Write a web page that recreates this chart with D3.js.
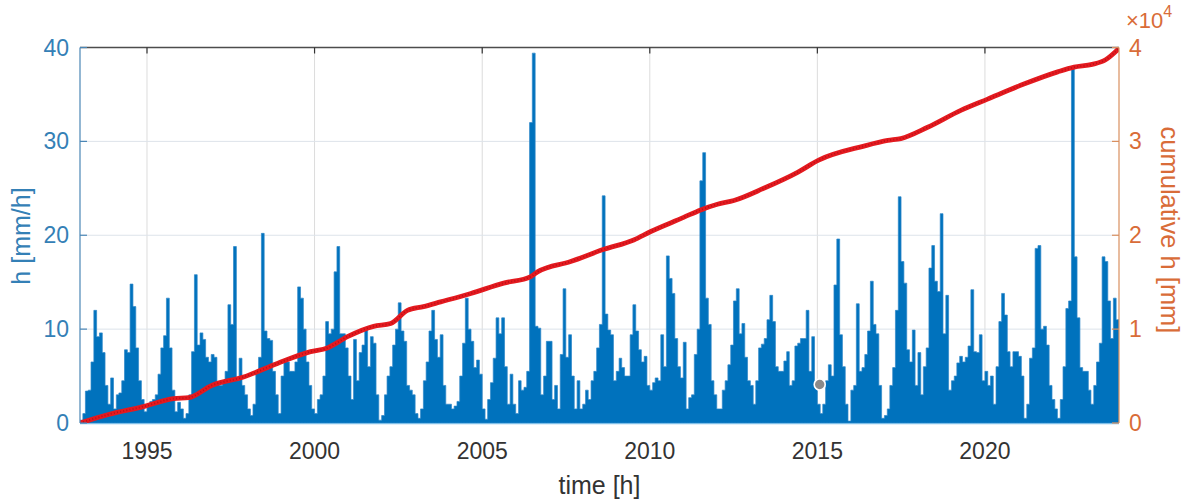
<!DOCTYPE html>
<html>
<head>
<meta charset="utf-8">
<script src="https://cdn.jsdelivr.net/npm/d3@7"></script>
<style>
  html, body { margin: 0; padding: 0; background: #fff; }
  svg { display: block; font-family: "Liberation Sans", Arial, Helvetica, sans-serif; }
</style>
</head>
<body>
<svg id="chart" width="1189" height="502"></svg>
<script>
// Rainfall record: monthly peak hourly intensity and running total.
const startYear = 1993;
const endYear = 2024;

// Peak hourly rainfall per month [mm/h], one row per year (Jan..Dec)
const hourlyPeak = [
  /* 1993 */ 0.3, 1.0, 3.4, 3.5, 6.5, 12.0, 9.2, 9.6, 7.5, 4.0, 2.0, 4.8,
  /* 1994 */ 1.5, 3.0, 3.2, 4.5, 7.8, 7.5, 14.8, 12.4, 8.0, 4.5, 2.5, 1.2,
  /* 1995 */ 2.0, 2.3, 2.5, 3.0, 5.2, 8.0, 9.3, 13.3, 8.0, 3.5, 1.2, 2.2,
  /* 1996 */ 1.5, 0.5, 1.0, 3.0, 7.6, 15.8, 8.3, 9.6, 8.9, 7.0, 6.5, 7.3,
  /* 1997 */ 7.0, 4.1, 4.0, 4.5, 5.5, 12.6, 10.5, 18.8, 4.5, 6.9, 4.0, 3.0,
  /* 1998 */ 1.5, 0.8, 2.0, 5.5, 7.0, 20.2, 9.8, 9.0, 8.8, 5.5, 3.0, 1.0,
  /* 1999 */ 5.0, 6.5, 6.5, 5.5, 5.5, 6.5, 14.5, 13.3, 10.0, 6.5, 4.0, 1.5,
  /* 2000 */ 1.0, 2.5, 3.0, 5.0, 10.8, 9.5, 10.0, 16.1, 18.8, 9.5, 9.5, 8.0,
  /* 2001 */ 5.0, 2.5, 8.9, 4.5, 7.5, 8.3, 10.1, 6.0, 9.2, 8.5, 3.0, 0.3,
  /* 2002 */ 0.8, 3.0, 5.0, 6.0, 8.3, 10.0, 12.8, 9.8, 8.7, 4.0, 3.5, 3.0,
  /* 2003 */ 1.0, 0.5, 1.5, 4.5, 6.5, 9.8, 12.0, 8.9, 7.0, 9.4, 4.0, 2.0,
  /* 2004 */ 2.0, 1.5, 1.8, 2.3, 5.0, 8.5, 13.3, 10.0, 8.7, 5.9, 6.7, 5.2,
  /* 2005 */ 1.5, 0.4, 2.5, 4.3, 6.9, 11.2, 9.5, 11.2, 6.0, 2.0, 5.2, 2.0,
  /* 2006 */ 1.0, 4.5, 3.5, 3.8, 5.5, 32.0, 39.4, 10.3, 10.1, 3.0, 5.0, 8.7,
  /* 2007 */ 8.7, 2.5, 4.0, 1.5, 7.3, 14.3, 7.0, 9.4, 5.0, 1.5, 4.5, 1.5,
  /* 2008 */ 2.0, 3.5, 2.5, 4.5, 5.5, 8.0, 10.5, 24.2, 11.6, 9.9, 9.4, 4.5,
  /* 2009 */ 5.5, 6.9, 5.9, 5.0, 5.0, 9.4, 12.6, 9.8, 7.8, 6.5, 7.1, 4.0,
  /* 2010 */ 3.5, 4.3, 4.8, 4.5, 9.4, 6.0, 17.8, 15.4, 13.8, 9.0, 6.0, 4.8,
  /* 2011 */ 8.6, 1.5, 2.7, 3.0, 7.3, 10.0, 25.8, 28.8, 13.3, 10.5, 4.5, 3.0,
  /* 2012 */ 1.5, 1.5, 3.5, 4.5, 6.2, 8.3, 13.0, 14.3, 9.5, 10.6, 7.0, 4.5,
  /* 2013 */ 4.0, 2.0, 4.5, 8.0, 8.4, 9.0, 11.0, 13.6, 10.8, 6.0, 5.5, 5.5,
  /* 2014 */ 6.6, 7.6, 4.0, 4.5, 8.2, 8.5, 9.0, 9.0, 12.0, 5.5, 9.2, 4.0,
  /* 2015 */ 2.0, 1.0, 2.0, 4.5, 6.2, 5.0, 14.7, 19.6, 9.4, 6.0, 2.0, 0.2,
  /* 2016 */ 3.5, 4.0, 12.7, 5.5, 5.9, 7.3, 9.8, 15.1, 10.5, 9.5, 4.0, 0.5,
  /* 2017 */ 0.8, 1.5, 4.0, 5.9, 12.0, 24.1, 17.2, 14.9, 7.8, 6.5, 9.9, 4.0,
  /* 2018 */ 7.5, 3.0, 6.0, 8.0, 16.5, 18.9, 15.1, 14.0, 22.3, 9.5, 13.6, 3.5,
  /* 2019 */ 4.5, 5.0, 6.4, 7.1, 6.5, 7.0, 8.2, 14.2, 7.6, 7.5, 9.4, 4.5,
  /* 2020 */ 5.5, 4.0, 5.0, 2.0, 6.0, 10.8, 13.8, 11.5, 7.6, 6.0, 7.6, 7.6,
  /* 2021 */ 7.1, 5.0, 0.5, 2.0, 6.9, 8.0, 18.6, 18.9, 10.0, 10.3, 8.3, 4.0,
  /* 2022 */ 2.5, 1.5, 0.5, 2.5, 6.0, 12.2, 13.0, 37.8, 17.7, 11.2, 5.9, 5.5,
  /* 2023 */ 5.5, 3.5, 2.0, 4.0, 6.5, 8.5, 17.7, 17.2, 13.0, 9.0, 13.3, 11.0
];

// Running total of rainfall: decimal year and cumulative depth [mm]
const cumulativeYear = [
  1993.00, 1993.85, 1994.95, 1995.79, 1996.24, 1996.93, 1997.88, 1998.89,
  1999.88, 2000.38, 2000.98, 2001.76, 2002.27, 2002.77, 2003.25, 2003.76,
  2004.66, 2005.64, 2006.45, 2006.65, 2007.64, 2008.63, 2009.52, 2010.03,
  2011.01, 2011.52, 2012.02, 2012.51, 2013.40, 2014.41, 2015.04, 2016.39,
  2017.10, 2017.49, 2018.29, 2019.28, 2020.08, 2021.16, 2022.17, 2022.66,
  2023.20, 2023.60, 2024.00
];
const cumulativeMm = [
  0, 900, 1800, 2600, 2700, 4000, 4900, 6350,
  7600, 8000, 9200, 10300, 10600, 12000, 12400, 12900,
  13800, 14900, 15600, 16100, 17200, 18500, 19500, 20400,
  21900, 22700, 23300, 23700, 25000, 26700, 28000, 29500,
  30100, 30300, 31500, 33300, 34500, 36100, 37400, 37900,
  38200, 38700, 39900
];

// Axis ticks
const leftTicks = [0, 10, 20, 30, 40];
const rightTicks = [0, 10000, 20000, 30000, 40000];
const yearTicks = [1995, 2000, 2005, 2010, 2015, 2020];

// Highlighted sample (data tip marker)
const tipYear = 2015.07;
const tipValue = 4.1;

// ---------------------------------------------------------------------------
const colLeft = "#0072bd";
const colLeftText = "#3480b6";
const colRightText = "#d96c38";

const plot = { left: 80, right: 1119, top: 47.5, bottom: 423 };

function yearToDate(y) {
  const yr = Math.floor(y);
  const a = new Date(yr, 0, 1).getTime();
  const b = new Date(yr + 1, 0, 1).getTime();
  return new Date(a + (y - yr) * (b - a));
}

const x = d3.scaleTime()
  .domain([new Date(startYear, 0, 1), new Date(endYear, 0, 1)])
  .range([plot.left, plot.right]);
const yL = d3.scaleLinear().domain([0, 40]).range([plot.bottom, plot.top]);
const yR = d3.scaleLinear().domain([0, 40000]).range([plot.bottom, plot.top]);

const svg = d3.select("#chart");

svg.append("defs").append("clipPath").attr("id", "plotClip")
  .append("rect")
  .attr("x", plot.left).attr("y", plot.top - 3)
  .attr("width", plot.right - plot.left).attr("height", plot.bottom - plot.top + 3);

// Grid
const grid = svg.append("g");
grid.selectAll("line.gx").data(yearTicks).join("line")
  .attr("x1", d => x(new Date(d, 0, 1))).attr("x2", d => x(new Date(d, 0, 1)))
  .attr("y1", plot.top).attr("y2", plot.bottom)
  .attr("stroke", "#dcdcdc").attr("stroke-width", 1);
grid.selectAll("line.gy").data(leftTicks.filter(d => d > 0 && d < 40)).join("line")
  .attr("x1", plot.left).attr("x2", plot.right)
  .attr("y1", d => yL(d)).attr("y2", d => yL(d))
  .attr("stroke", "#dde3ea").attr("stroke-width", 1);

// Bottom axis line (drawn beneath the data)
svg.append("line")
  .attr("x1", plot.left).attr("x2", plot.right)
  .attr("y1", plot.bottom + 0.5).attr("y2", plot.bottom + 0.5)
  .attr("stroke", "#7fbfe8").attr("stroke-width", 1.5);

// Monthly peak intensity as stepped bars
const monthly = hourlyPeak.map((v, i) => ({
  date: new Date(startYear + Math.floor(i / 12), i % 12, 1),
  v
}));
monthly.push({ date: new Date(endYear, 0, 1), v: hourlyPeak[hourlyPeak.length - 1] });

const area = d3.area()
  .curve(d3.curveStepAfter)
  .x(d => x(d.date))
  .y0(yL(0))
  .y1(d => yL(d.v));

const dataLayer = svg.append("g").attr("clip-path", "url(#plotClip)");
dataLayer.append("path")
  .datum(monthly)
  .attr("d", area)
  .attr("fill", colLeft)
  .attr("stroke", "#2d86c9")
  .attr("stroke-width", 0.7);

// Cumulative total
const cum = cumulativeYear.map((y, i) => ({ date: yearToDate(y), v: cumulativeMm[i] }));
const line = d3.line()
  .curve(d3.curveMonotoneX)
  .x(d => x(d.date))
  .y(d => yR(d.v));

dataLayer.append("path")
  .datum(cum)
  .attr("d", line)
  .attr("fill", "none")
  .attr("stroke", "#e41a1f")
  .attr("stroke-width", 4.8)
  .attr("stroke-linejoin", "round");
dataLayer.append("path")
  .datum(cum)
  .attr("d", line)
  .attr("fill", "none")
  .attr("stroke", "#b8101a")
  .attr("stroke-width", 1.8)
  .attr("stroke-dasharray", "1 2.2");

// Data tip marker
dataLayer.append("circle")
  .attr("cx", x(yearToDate(tipYear)))
  .attr("cy", yL(tipValue))
  .attr("r", 5.5)
  .attr("fill", "#8a8a8a")
  .attr("stroke", "#ffffff")
  .attr("stroke-width", 1.6);

// Frame
svg.append("line")
  .attr("x1", plot.left).attr("x2", plot.right)
  .attr("y1", plot.top).attr("y2", plot.top)
  .attr("stroke", "#4d4d4d").attr("stroke-width", 1.3);
svg.append("line")
  .attr("x1", plot.left).attr("x2", plot.left)
  .attr("y1", plot.top).attr("y2", plot.bottom)
  .attr("stroke", "#4a86b5").attr("stroke-width", 1.2);
svg.append("line")
  .attr("x1", plot.right).attr("x2", plot.right)
  .attr("y1", plot.top).attr("y2", plot.bottom)
  .attr("stroke", "#d98f5f").attr("stroke-width", 1.2);

// Year ticks on the top edge
svg.selectAll("line.tt").data(yearTicks).join("line")
  .attr("x1", d => x(new Date(d, 0, 1))).attr("x2", d => x(new Date(d, 0, 1)))
  .attr("y1", plot.top).attr("y2", plot.top + 6)
  .attr("stroke", "#333").attr("stroke-width", 1.2);

// Left ticks and labels
svg.selectAll("line.tl").data(leftTicks).join("line")
  .attr("x1", plot.left).attr("x2", plot.left + 7)
  .attr("y1", d => yL(d)).attr("y2", d => yL(d))
  .attr("stroke", "#4a86b5").attr("stroke-width", 1.2);
svg.selectAll("text.tl").data(leftTicks).join("text")
  .attr("x", plot.left - 11)
  .attr("y", d => yL(d) + 8)
  .attr("text-anchor", "end")
  .attr("font-size", 23)
  .attr("fill", colLeftText)
  .text(d => d);

// Right ticks and labels
svg.selectAll("line.tr").data(rightTicks).join("line")
  .attr("x1", plot.right - 7).attr("x2", plot.right)
  .attr("y1", d => yR(d)).attr("y2", d => yR(d))
  .attr("stroke", "#d98f5f").attr("stroke-width", 1.2);
svg.selectAll("text.tr").data(rightTicks).join("text")
  .attr("x", plot.right + 10)
  .attr("y", d => yR(d) + 8)
  .attr("text-anchor", "start")
  .attr("font-size", 23)
  .attr("fill", colRightText)
  .text(d => d / 10000);

// Exponent marker for the right axis
const expo = svg.append("text")
  .attr("x", plot.right + 7)
  .attr("y", 28)
  .attr("font-size", 22)
  .attr("fill", colRightText);
expo.append("tspan").text("\u00d710");
expo.append("tspan").attr("dy", -11).attr("font-size", 16).text("4");

// Year labels
svg.selectAll("text.tx").data(yearTicks).join("text")
  .attr("x", d => x(new Date(d, 0, 1)))
  .attr("y", 459)
  .attr("text-anchor", "middle")
  .attr("font-size", 23)
  .attr("fill", "#333")
  .text(d => d);

// Axis titles
svg.append("text")
  .attr("x", (plot.left + plot.right) / 2)
  .attr("y", 494)
  .attr("text-anchor", "middle")
  .attr("font-size", 25)
  .attr("fill", "#333")
  .text("time [h]");

svg.append("text")
  .attr("transform", "translate(30,236) rotate(-90)")
  .attr("text-anchor", "middle")
  .attr("font-size", 25)
  .attr("fill", colLeftText)
  .text("h [mm/h]");

svg.append("text")
  .attr("transform", "translate(1161,230) rotate(90)")
  .attr("text-anchor", "middle")
  .attr("font-size", 25.5)
  .attr("fill", colRightText)
  .text("cumulative h [mm]");
</script>
</body>
</html>
